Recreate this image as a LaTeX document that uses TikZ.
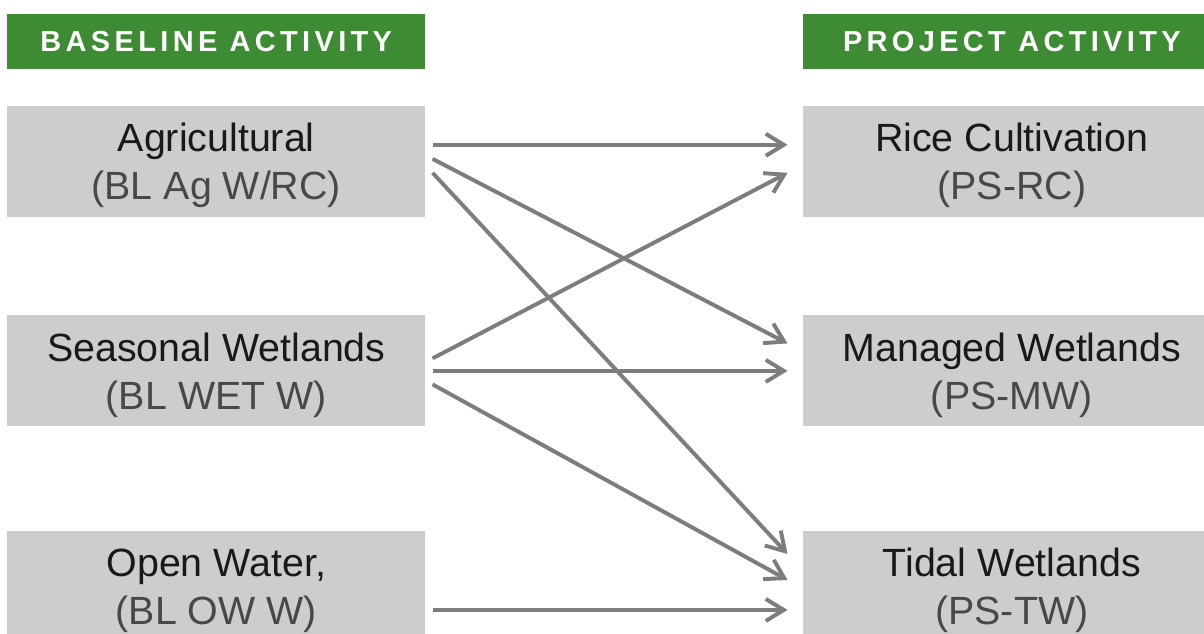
\documentclass[tikz,border=0pt]{standalone}
\usepackage{xcolor}
\usepackage{fontspec}
\setmainfont{Liberation Sans}
\newfontfamily\headfont[LetterSpace=15]{Liberation Sans}
\usepackage{tikz}
\usetikzlibrary{arrows.meta, positioning}

\definecolor{headgreen}{RGB}{61,139,51}
\definecolor{boxgray}{RGB}{204,205,207}
\definecolor{arrowgray}{RGB}{125,125,125}
\definecolor{subgray}{RGB}{72,72,72}

\newcommand{\lift}{\rule{0pt}{0.93em}}

\begin{document}
\begin{tikzpicture}[node distance=2cm]
\tikzstyle{header} = [rectangle, fill=headgreen, minimum width=10.45cm, minimum height=1.375cm, inner sep=0pt, text=white, font=\headfont\bfseries\fontsize{20.6}{24}\selectfont]
\tikzstyle{activity} = [rectangle, fill=boxgray, minimum width=10.45cm, minimum height=2.775cm, inner sep=0pt, align=center, text=black!90, font=\fontsize{28}{34.1}\selectfont]
\tikzstyle{arrow} = [arrowgray, line width=2.8pt, -{Straight Barb[length=0.45cm, width=0.55cm]}]

\useasboundingbox (0,0) rectangle (30.1,-15.85);

\node (base) [header, anchor=north west] at (0.175,-0.35) {BASELINE ACTIVITY};
\node (ag) [activity, below=0.9cm of base] {\lift Agricultural\\{\color{subgray}(BL Ag W/RC)}};
\node (sw) [activity, below=2.45cm of ag] {\lift Seasonal Wetlands\\{\color{subgray}(BL WET W)}};
\node (ow) [activity, below=2.6cm of sw] {\lift Open Water,\\{\color{subgray}(BL OW W)}};

\node (proj) [header, right=9.425cm of base] {PROJECT ACTIVITY};
\node (rc) [activity, right=9.425cm of ag] {\lift Rice Cultivation\\{\color{subgray}(PS-RC)}};
\node (mw) [activity, right=9.425cm of sw] {\lift Managed Wetlands\\{\color{subgray}(PS-MW)}};
\node (tw) [activity, right=9.425cm of ow] {\lift Tidal Wetlands\\{\color{subgray}(PS-TW)}};

\draw [arrow] ([xshift=0.175cm, yshift=0.4125cm]ag.east) -- ([xshift=-0.375cm, yshift=0.4125cm]rc.west);
\draw [arrow] ([xshift=0.175cm, yshift=0.0625cm]ag.east) -- ([xshift=-0.375cm, yshift=0.6875cm]mw.west);
\draw [arrow] ([xshift=0.175cm, yshift=-0.2875cm]ag.east) -- ([xshift=-0.375cm, yshift=0.8125cm]tw.west);
\draw [arrow] ([xshift=0.175cm, yshift=0.3125cm]sw.east) -- ([xshift=-0.375cm, yshift=-0.2875cm]rc.west);
\draw [arrow] ([xshift=0.175cm]sw.east) -- ([xshift=-0.375cm]mw.west);
\draw [arrow] ([xshift=0.175cm, yshift=-0.3375cm]sw.east) -- ([xshift=-0.375cm, yshift=0.1625cm]tw.west);
\draw [arrow] ([xshift=0.175cm, yshift=-0.5875cm]ow.east) -- ([xshift=-0.375cm, yshift=-0.5875cm]tw.west);

\end{tikzpicture}
\end{document}
